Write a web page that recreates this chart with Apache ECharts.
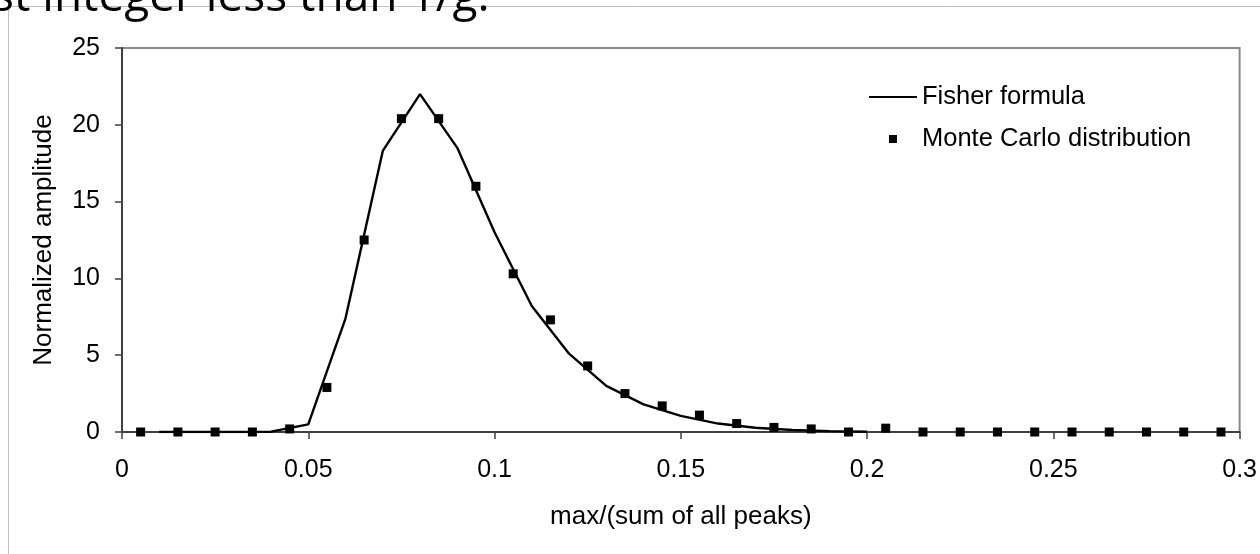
<!DOCTYPE html>
<html>
<head>
<meta charset="utf-8">
<script src="https://cdn.jsdelivr.net/npm/echarts@6/dist/echarts.min.js"></script>
<style>
html,body{margin:0;padding:0;background:#fff;}
#chart{width:1260px;height:554px;}
</style>
</head>
<body>
<div id="chart"></div>
<script>
// Fisher formula (line)
const fisherX = [0.01,0.02,0.03,0.04,0.05,0.06,0.07,0.08,0.09,0.10,0.11,0.12,0.13,0.14,0.15,0.16,0.17,0.18,0.19,0.20];
const fisherY = [0,0,0,0.02,0.5,7.4,18.3,22.0,18.5,13.0,8.2,5.1,3.0,1.8,1.05,0.55,0.28,0.13,0.06,0.02];
// Monte Carlo distribution (points)
const mcX = [0.005,0.015,0.025,0.035,0.045,0.055,0.065,0.075,0.085,0.095,0.105,0.115,0.125,0.135,0.145,0.155,0.165,0.175,0.185,0.195,0.205,0.215,0.225,0.235,0.245,0.255,0.265,0.275,0.285,0.295];
const mcY = [0,0,0,0,0.2,2.9,12.5,20.4,20.4,16.0,10.3,7.3,4.3,2.5,1.7,1.1,0.55,0.3,0.2,0,0.25,0,0,0,0,0,0,0,0,0];
const xTicks = {min:0, max:0.3, interval:0.05};
const yTicks = {min:0, max:25, interval:5};
const xName = 'max/(sum of all peaks)';
const yName = 'Normalized amplitude';
const topText = 'st integer less than 1/g.';

const chart = echarts.init(document.getElementById('chart'));
const font = '"Liberation Sans", Arial, sans-serif';
const option = {
  animation:false,
  backgroundColor:'#fff',
  textStyle:{fontFamily:font},
  grid:{left:122, right:18, top:48, bottom:122, show:true, borderColor:'#8a8a8a', borderWidth:2, backgroundColor:'transparent'},
  graphic:[
    {type:'rect', shape:{x:8.5, y:6.5, width:1300, height:600}, style:{fill:'none', stroke:'#c0c0c0', lineWidth:1}, silent:true, z:0},
    {type:'text', left:-8, top:-25, style:{text:topText, fill:'#000', font:'46px "Open Sans", sans-serif'}, z:10}
  ],
  legend:[
    {data:[{name:'Fisher formula', icon:'rect'}], left:864, top:79, itemWidth:48, itemHeight:2, itemGap:0,
     textStyle:{fontSize:25.5, color:'#000', fontFamily:font, padding:[0,0,0,0]}, selectedMode:false},
    {data:[{name:'Monte Carlo distribution', icon:'rect'}], left:884, top:121, itemWidth:8, itemHeight:8, itemGap:0,
     textStyle:{fontSize:25.5, color:'#000', fontFamily:font, padding:[0,0,0,20]}, selectedMode:false}
  ],
  xAxis:{type:'value', min:xTicks.min, max:xTicks.max, interval:xTicks.interval,
    name:xName, nameLocation:'middle', nameGap:72, nameTextStyle:{fontSize:26, color:'#000', fontFamily:font},
    axisLine:{show:true, onZero:false, lineStyle:{color:'#404040', width:2}},
    axisTick:{show:true, length:7, lineStyle:{color:'#404040', width:1.5}},
    axisLabel:{fontSize:25, color:'#000', margin:26, fontFamily:font,
      formatter:v=>String(+v.toFixed(2))},
    splitLine:{show:false}},
  yAxis:{type:'value', min:yTicks.min, max:yTicks.max, interval:yTicks.interval,
    name:yName, nameLocation:'middle', nameGap:65, nameRotate:90, nameTextStyle:{fontSize:26, color:'#000', fontFamily:font},
    axisLine:{show:true, lineStyle:{color:'#404040', width:2}},
    axisTick:{show:true, length:7, lineStyle:{color:'#404040', width:1.5}},
    axisLabel:{fontSize:25, color:'#000', margin:22, fontFamily:font},
    splitLine:{show:false}},
  series:[
    {name:'Fisher formula', type:'line', data:fisherX.map((x,i)=>[x,fisherY[i]]), showSymbol:false, symbol:'none',
     lineStyle:{color:'#000', width:2.4}, itemStyle:{color:'#000'}, z:3},
    {name:'Monte Carlo distribution', type:'scatter', data:mcX.map((x,i)=>[x,mcY[i]]), symbol:'rect', symbolSize:9,
     itemStyle:{color:'#000', opacity:1}, z:4}
  ]
};
chart.setOption(option);
</script>
</body>
</html>
